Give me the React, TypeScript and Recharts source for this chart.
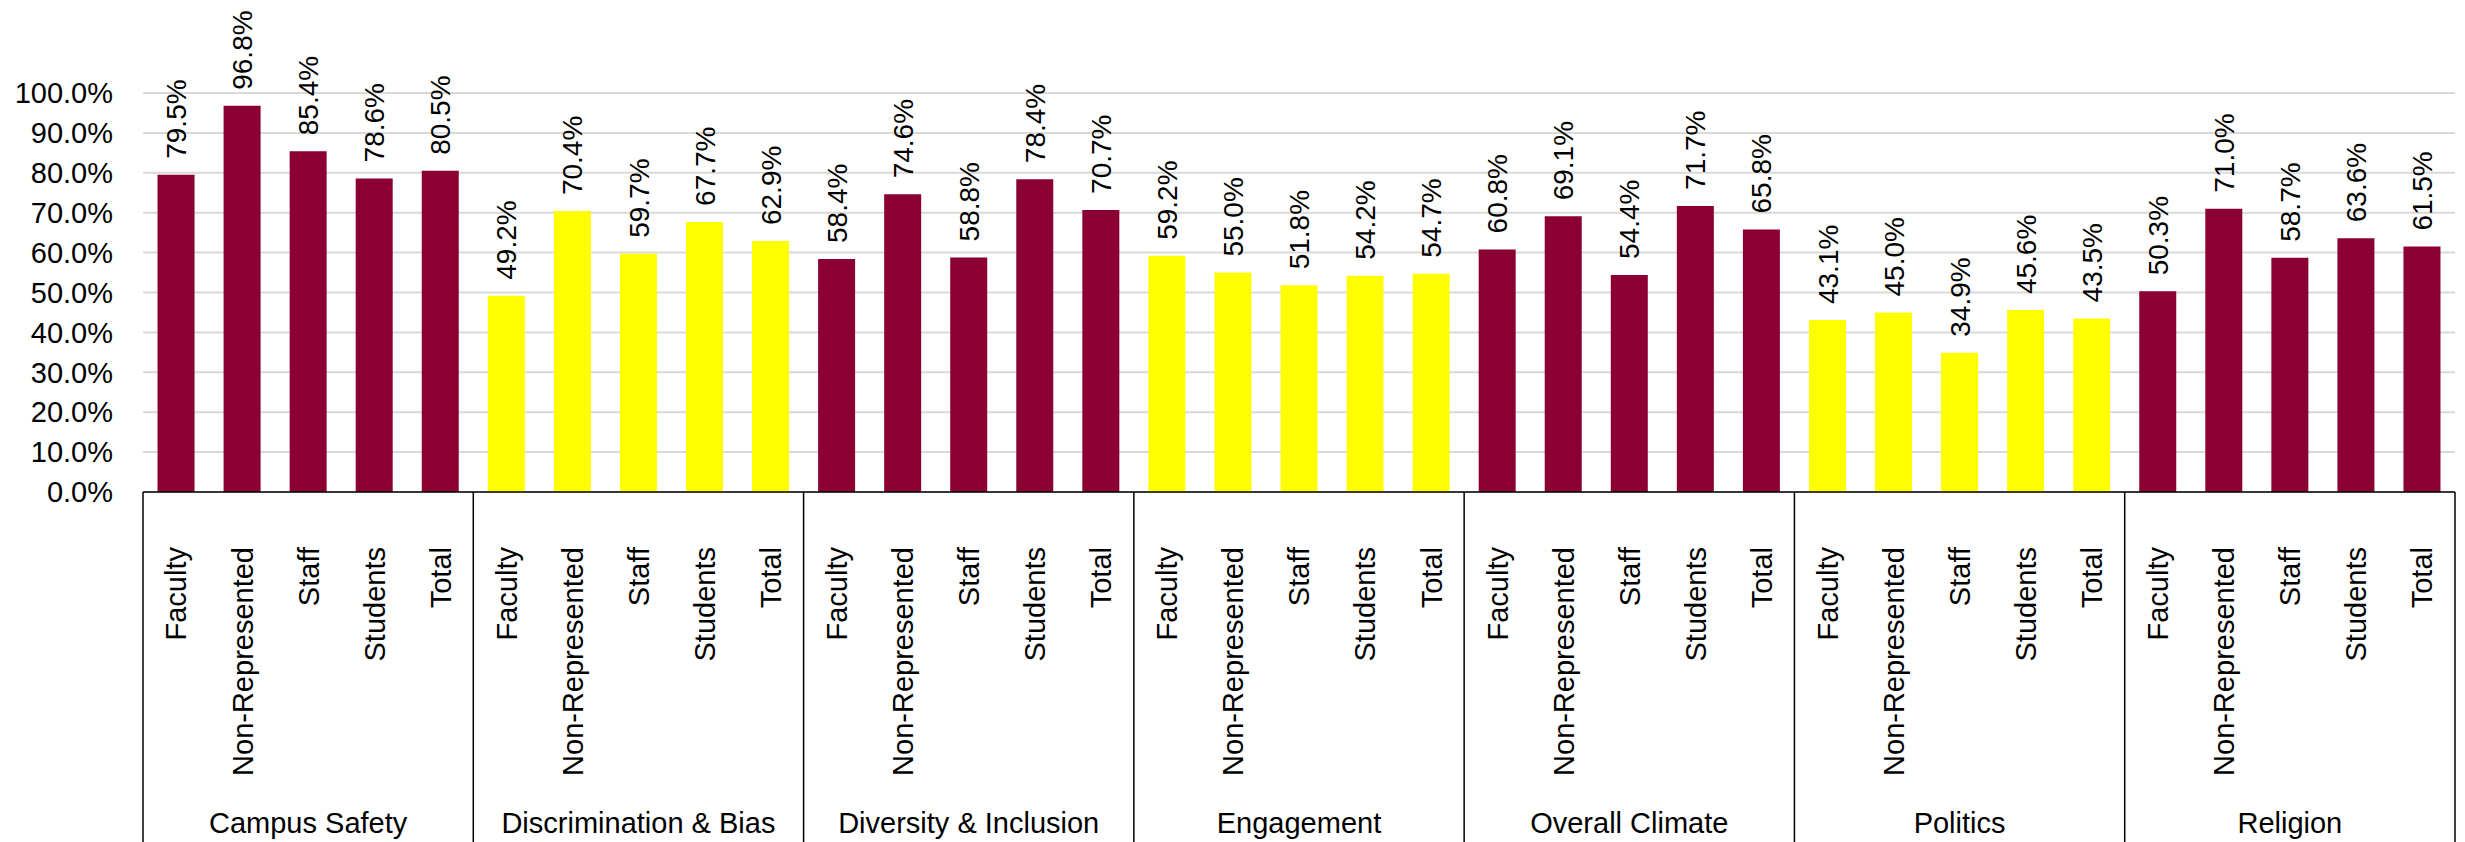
import { BarChart, Bar, XAxis, YAxis, CartesianGrid, Cell, LabelList } from "recharts";

const groups = [
  "Campus Safety",
  "Discrimination & Bias",
  "Diversity & Inclusion",
  "Engagement",
  "Overall Climate",
  "Politics",
  "Religion",
];
const respondents = ["Faculty", "Non-Represented", "Staff", "Students", "Total"];

const campusSafety = [79.5, 96.8, 85.4, 78.6, 80.5];
const discriminationBias = [49.2, 70.4, 59.7, 67.7, 62.9];
const diversityInclusion = [58.4, 74.6, 58.8, 78.4, 70.7];
const engagement = [59.2, 55.0, 51.8, 54.2, 54.7];
const overallClimate = [60.8, 69.1, 54.4, 71.7, 65.8];
const politics = [43.1, 45.0, 34.9, 45.6, 43.5];
const religion = [50.3, 71.0, 58.7, 63.6, 61.5];

const groupValues = [
  campusSafety,
  discriminationBias,
  diversityInclusion,
  engagement,
  overallClimate,
  politics,
  religion,
];
const groupColors = ["#8B0033", "#FFFF00", "#8B0033", "#FFFF00", "#8B0033", "#FFFF00", "#8B0033"];
const yTicks = [0, 10, 20, 30, 40, 50, 60, 70, 80, 90, 100];

const data = groups.flatMap((g, gi) =>
  respondents.map((r, ri) => ({
    key: `${g}|${r}`,
    group: g,
    name: r,
    groupIndex: gi,
    value: groupValues[gi][ri],
  })),
);

const WIDTH = 2465;
const HEIGHT = 842;
const MARGIN = { top: 93, right: 10, left: 0, bottom: 0 };
const Y_WIDTH = 143;
const X_HEIGHT = 350;
const FONT = "'Liberation Sans', Arial, sans-serif";

const CategoryTick = (props: any) => {
  const { x, y, payload, index } = props;
  const row = data[index];
  const band = payload?.offset
    ? payload.offset * 2
    : (WIDTH - MARGIN.left - MARGIN.right - Y_WIDTH) / data.length;
  const pos = index % respondents.length;
  return (
    <g>
      <text
        x={x}
        y={y + 55}
        transform={`rotate(-90, ${x}, ${y + 55})`}
        textAnchor="end"
        dy="0.36em"
        fontSize={29}
        fontFamily={FONT}
        fill="#000"
      >
        {row?.name}
      </text>
      {pos === 0 && (
        <line x1={x - band / 2} x2={x - band / 2} y1={y} y2={y + X_HEIGHT} stroke="#000" strokeWidth={1.5} />
      )}
      {index === data.length - 1 && (
        <line x1={x + band / 2} x2={x + band / 2} y1={y} y2={y + X_HEIGHT} stroke="#000" strokeWidth={1.5} />
      )}
      {pos === 2 && (
        <text x={x} y={y + 341} textAnchor="middle" fontSize={29} fontFamily={FONT} fill="#000">
          {row?.group}
        </text>
      )}
    </g>
  );
};

const ValueLabel = (props: any) => {
  const { x, y, width, value } = props;
  const cx = x + width / 2;
  const ty = y - 16;
  return (
    <text
      x={cx}
      y={ty}
      transform={`rotate(-90, ${cx}, ${ty})`}
      textAnchor="start"
      dy="0.36em"
      fontSize={28}
      fontFamily={FONT}
      fill="#000"
    >
      {`${Number(value).toFixed(1)}%`}
    </text>
  );
};

export default function App() {
  return (
    <div style={{ position: "absolute", left: 0, top: 0, background: "#fff" }}>
      <BarChart width={WIDTH} height={HEIGHT} data={data} margin={MARGIN} barCategoryGap="22%">
        <CartesianGrid vertical={false} stroke="#d9d9d9" strokeWidth={2} />
        <XAxis
          dataKey="key"
          interval={0}
          height={X_HEIGHT}
          tickLine={false}
          tickSize={0}
          tickMargin={0}
          axisLine={{ stroke: "#000", strokeWidth: 1.5 }}
          tick={<CategoryTick />}
        />
        <YAxis
          domain={[0, 100]}
          ticks={yTicks}
          width={Y_WIDTH}
          axisLine={false}
          tickLine={false}
          tickSize={0}
          tickMargin={30}
          tickFormatter={(v: number) => `${v.toFixed(1)}%`}
          tick={{ fontSize: 29, fontFamily: FONT, fill: "#000" }}
        />
        <Bar dataKey="value" isAnimationActive={false}>
          {data.map((d) => (
            <Cell key={d.key} fill={groupColors[d.groupIndex]} />
          ))}
          <LabelList dataKey="value" content={<ValueLabel />} />
        </Bar>
      </BarChart>
    </div>
  );
}
